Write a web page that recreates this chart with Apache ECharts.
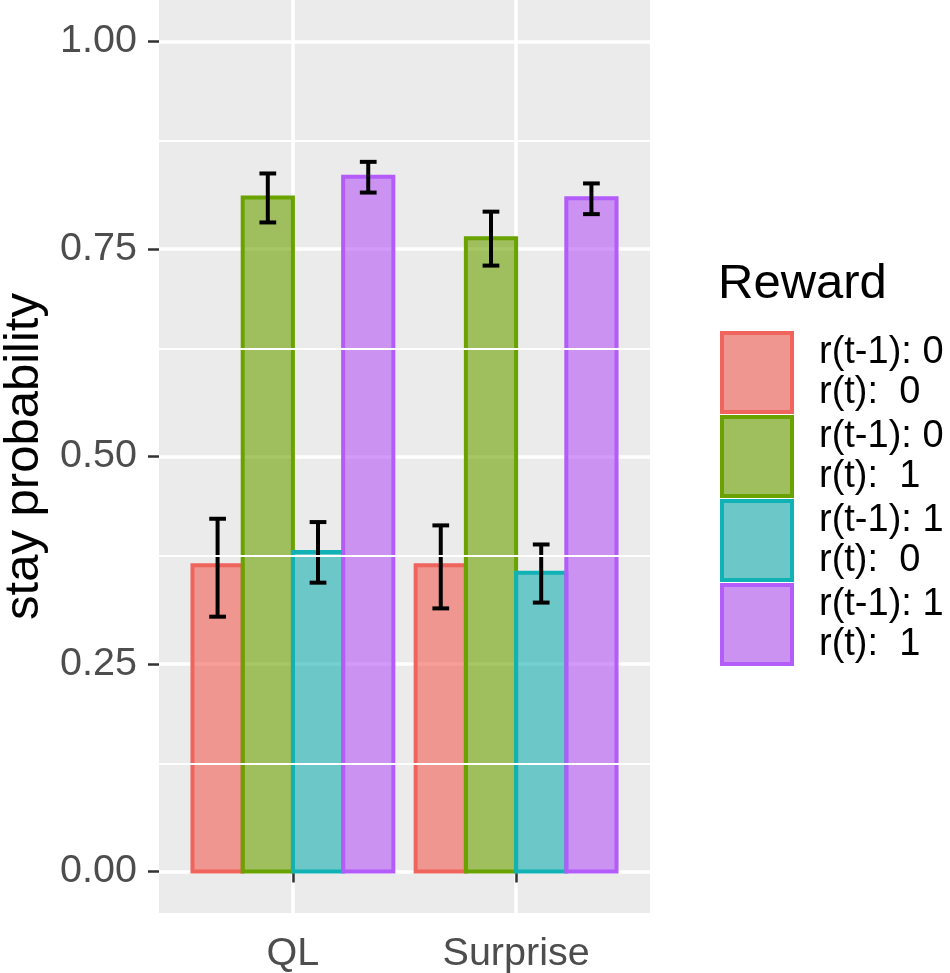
<!DOCTYPE html>
<html><head><meta charset="utf-8">
<script src="https://cdn.jsdelivr.net/npm/echarts@6/dist/echarts.min.js"></script>
<style>html,body{margin:0;padding:0;background:#fff}#c{width:950px;height:973px}</style>
</head><body><div id="c"></div>
<script>
// ---- data ----
const categories = ['QL', 'Surprise'];
const groupNames = ['r(t-1): 0\nr(t):  0', 'r(t-1): 0\nr(t):  1', 'r(t-1): 1\nr(t):  0', 'r(t-1): 1\nr(t):  1'];
const meanR00 = [0.369, 0.369];
const meanR01 = [0.812, 0.763];
const meanR10 = [0.385, 0.360];
const meanR11 = [0.837, 0.811];
const lowR00 = [0.307, 0.317];
const highR00 = [0.425, 0.417];
const lowR01 = [0.782, 0.730];
const highR01 = [0.841, 0.795];
const lowR10 = [0.348, 0.324];
const highR10 = [0.421, 0.394];
const lowR11 = [0.818, 0.792];
const highR11 = [0.855, 0.829];
const yTicks = [0, 0.25, 0.5, 0.75, 1];
const yMinorTicks = [0.125, 0.375, 0.625, 0.875];
const yTickLabels = ['0.00', '0.25', '0.50', '0.75', '1.00'];

// ---- style ----
const lineColors = ['#F0645E', '#6AA300', '#10B2B6', '#B45CFA'];
const fillColors = ['rgba(240,93,82,0.6)', 'rgba(108,160,0,0.6)', 'rgba(23,175,178,0.6)', 'rgba(182,87,246,0.6)'];
const keyFillColors = ['#EE968F', '#9FBE5E', '#6CC7C9', '#CB92F2'];
const FONT = '"Liberation Sans", Arial, Helvetica, sans-serif';
const means = [meanR00, meanR01, meanR10, meanR11];
const lows = [lowR00, lowR01, lowR10, lowR11];
const highs = [highR00, highR01, highR10, highR11];
const dodge = 0.9, nGroups = 4, barW = dodge / nGroups, whisker = 0.075;

function makeRender(k) {
  return function (params, api) {
    const x = api.value(0) + (k - (nGroups - 1) / 2) * barW;
    const m = api.value(1), lo = api.value(2), hi = api.value(3);
    const tl = api.coord([x - barW / 2, m]);
    const br = api.coord([x + barW / 2, 0]);
    const cLo = api.coord([x, lo]);
    const cHi = api.coord([x, hi]);
    const hw = api.size([whisker / 2, 0])[0];
    const es = { stroke: '#000', lineWidth: 4 };
    return {
      type: 'group',
      children: [
        { type: 'rect', shape: { x: tl[0], y: tl[1], width: br[0] - tl[0], height: br[1] - tl[1] },
          style: { fill: fillColors[k], stroke: lineColors[k], lineWidth: 4 } },
        { type: 'line', shape: { x1: cLo[0], y1: cLo[1], x2: cHi[0], y2: cHi[1] }, style: es },
        { type: 'line', shape: { x1: cLo[0] - hw, y1: cLo[1], x2: cLo[0] + hw, y2: cLo[1] }, style: es },
        { type: 'line', shape: { x1: cHi[0] - hw, y1: cHi[1], x2: cHi[0] + hw, y2: cHi[1] }, style: es }
      ]
    };
  };
}

const series = [{
  type: 'line', data: [], z: 1, silent: true,
  markLine: {
    silent: true, symbol: ['none', 'none'], label: { show: false },
    lineStyle: { color: '#fff', width: 1.8, type: 'solid' },
    emphasis: { disabled: true },
    data: yMinorTicks.map(v => ({ yAxis: v }))
  }
}];
for (let k = 0; k < nGroups; k++) {
  series.push({
    type: 'custom', name: groupNames[k], z: 3,
    itemStyle: { color: fillColors[k], borderColor: lineColors[k], borderWidth: 4 },
    renderItem: makeRender(k),
    encode: { x: 0, y: 1 },
    data: categories.map((c, i) => [i + 1, means[k][i], lows[k][i], highs[k][i]])
  });
}

const chart = echarts.init(document.getElementById('c'));
chart.setOption({
  animation: false,
  backgroundColor: '#fff',
  title: {
    text: 'Reward', left: 718, top: 260, padding: 0,
    textStyle: { fontFamily: FONT, fontSize: 49, fontWeight: 'normal', color: '#000' }
  },
  legend: {
    orient: 'vertical', left: 720, top: 331, padding: 0,
    itemWidth: 70, itemHeight: 79, itemGap: 1, icon: 'rect',
    selectedMode: false,
    textStyle: { fontFamily: FONT, fontSize: 38, lineHeight: 40, color: '#000', padding: [0, 0, 0, 22] },
    data: groupNames.map((n, k) => ({
      name: n, icon: 'rect',
      itemStyle: { color: keyFillColors[k], borderColor: lineColors[k], borderWidth: 4 }
    }))
  },
  grid: {
    left: 159, right: 300, top: 0, bottom: 60, show: true,
    backgroundColor: '#EBEBEB', borderWidth: 0, containLabel: false,
    outerBoundsMode: 'none'
  },
  xAxis: {
    type: 'value', min: 0.4, max: 2.6,
    axisLine: { show: false },
    axisTick: { show: true, length: 11, customValues: [1, 2], lineStyle: { color: '#333', width: 2.5 } },
    axisLabel: {
      customValues: [1, 2], margin: 21,
      formatter: v => categories[Math.round(v) - 1] || '',
      fontFamily: FONT, fontSize: 39.5, color: '#4D4D4D'
    },
    splitLine: { show: true, lineStyle: { color: '#fff', width: 3.5 } }
  },
  yAxis: {
    type: 'value', min: -0.05, max: 1.05,
    name: 'stay probability', nameLocation: 'middle', nameGap: 104, nameRotate: 90,
    nameTextStyle: { fontFamily: FONT, fontSize: 49, color: '#000' },
    axisLine: { show: false },
    axisTick: { show: true, length: 11, customValues: yTicks, lineStyle: { color: '#333', width: 2.5 } },
    axisLabel: {
      customValues: yTicks, margin: 22,
      formatter: v => { const i = yTicks.findIndex(t => Math.abs(t - v) < 1e-9); return i >= 0 ? yTickLabels[i] : ''; },
      fontFamily: FONT, fontSize: 39.5, color: '#4D4D4D'
    },
    splitLine: { show: true, lineStyle: { color: '#fff', width: 3.5 } }
  },
  series: series
});
</script>
</body></html>
